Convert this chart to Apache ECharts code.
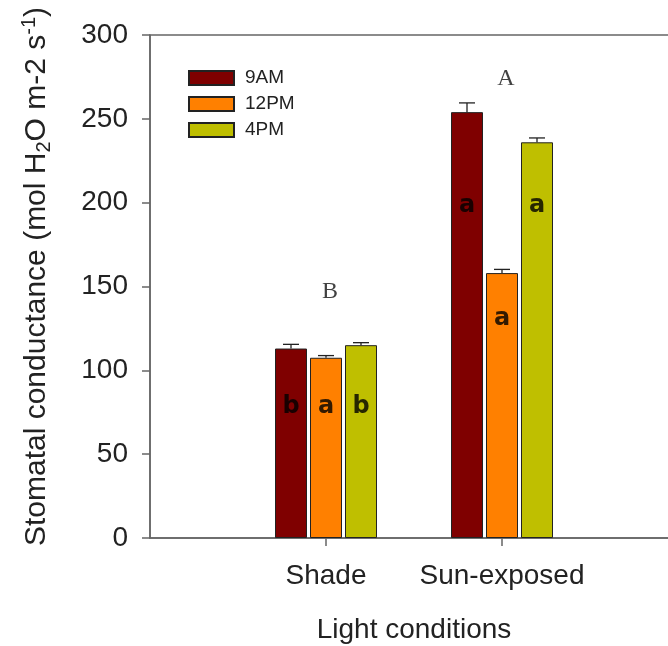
<!DOCTYPE html>
<html>
<head>
<meta charset="utf-8">
<script src="https://cdn.jsdelivr.net/npm/echarts@6/dist/echarts.min.js"></script>
<style>
  html, body { margin: 0; padding: 0; background: #fff; }
  #main { width: 668px; height: 646px; }
</style>
</head>
<body>
<div id="main"></div>
<script>
// data
var categories = ['Shade', 'Sun-exposed'];
var seriesNames = ['9AM', '12PM', '4PM'];
var values9 = [113, 254];
var values12 = [107.5, 158];
var values4 = [115, 236];
var err9 = [2.5, 5.5];
var err12 = [1.3, 2.2];
var err4 = [1.5, 2.6];
// significance letters inside the bars and where they sit (axis units)
var letters9 = ['b', 'a'];
var letters12 = ['a', 'a'];
var letters4 = ['b', 'a'];
var letterY9 = [78, 198];
var letterY12 = [78, 131];
var letterY4 = [78, 198];
// letters above each group
var groupLetters = ['B', 'A'];
var groupLetterY = [147, 274];
var yTicks = [0, 50, 100, 150, 200, 250, 300];

var colors = ['#7f0000', '#ff8000', '#bfbf00'];
var BAR_W = 32;
var BAR_GAP = 3;

// x axis runs 0..3, the two groups sit at 1 and 2
var axisCats = [''].concat(categories).concat(['']);

function pad(arr) {
  return ['-'].concat(arr).concat(['-']);
}

function errRender(offset) {
  return function (params, api) {
    var base = api.coord([api.value(0), api.value(1)]);
    var top = api.coord([api.value(0), api.value(1) + api.value(2)]);
    var x = base[0] + offset;
    var st = { stroke: '#222', lineWidth: 1.3 };
    return {
      type: 'group',
      children: [
        { type: 'line', shape: { x1: x, y1: base[1], x2: x, y2: top[1] }, style: st },
        { type: 'line', shape: { x1: x - 8, y1: top[1], x2: x + 8, y2: top[1] }, style: st }
      ]
    };
  };
}

var valueSets = [values9, values12, values4];
var errSets = [err9, err12, err4];
var letterSets = [letters9, letters12, letters4];
var letterYSets = [letterY9, letterY12, letterY4];

var series = [];
seriesNames.forEach(function (name, i) {
  series.push({
    name: name,
    type: 'bar',
    barWidth: BAR_W,
    barGap: (BAR_GAP / BAR_W * 100) + '%',
    data: pad(valueSets[i]),
    itemStyle: { color: colors[i], borderColor: '#222', borderWidth: 1 },
    z: 2
  });
});
seriesNames.forEach(function (name, i) {
  var offset = (i - 1) * (BAR_W + BAR_GAP);
  series.push({
    type: 'custom',
    renderItem: errRender(offset),
    data: valueSets[i].map(function (v, k) { return [k + 1, v, errSets[i][k]]; }),
    z: 3,
    silent: true
  });
  series.push({
    type: 'scatter',
    symbolSize: 0,
    data: letterYSets[i].map(function (v, k) { return [k + 1, v, letterSets[i][k]]; }),
    label: {
      show: true,
      position: 'inside',
      offset: [offset, 0],
      formatter: function (p) { return p.data[2]; },
      fontFamily: 'DejaVu Sans',
      fontWeight: 'bold',
      fontSize: 24,
      color: '#000'
    },
    z: 4,
    silent: true
  });
});
series.push({
  type: 'scatter',
  symbolSize: 0,
  data: groupLetterY.map(function (v, k) { return [k + 1, v, groupLetters[k]]; }),
  label: {
    show: true,
    position: 'inside',
    offset: [4, 0],
    formatter: function (p) { return p.data[2]; },
    fontFamily: 'Liberation Serif',
    fontSize: 24,
    color: '#111'
  },
  z: 4,
  silent: true
});

var myChart = echarts.init(document.getElementById('main'));
var option = {
  animation: false,
  backgroundColor: '#fff',
  textStyle: { fontFamily: 'Liberation Sans' },
  grid: {
    left: 150,
    top: 35,
    right: -10,
    bottom: 108,
    outerBoundsMode: 'none',
    show: true,
    borderColor: '#666',
    borderWidth: 1.5
  },
  legend: {
    data: seriesNames,
    orient: 'vertical',
    left: 188,
    top: 68,
    padding: 0,
    itemWidth: 45,
    itemHeight: 14,
    itemGap: 6,
    icon: 'rect',
    textStyle: {
      fontFamily: 'Liberation Sans',
      fontSize: 19,
      lineHeight: 20,
      color: '#222',
      padding: [0, 0, 0, 6]
    }
  },
  xAxis: {
    type: 'category',
    data: axisCats,
    boundaryGap: false,
    name: 'Light conditions',
    nameLocation: 'middle',
    nameGap: 78,
    nameTextStyle: { fontSize: 28, color: '#222', fontFamily: 'Liberation Sans' },
    axisLine: { lineStyle: { color: '#666', width: 1.5 } },
    axisTick: {
      length: 8,
      interval: function (idx, val) { return val !== ''; },
      lineStyle: { color: '#666', width: 1.5 }
    },
    axisLabel: {
      interval: 0,
      margin: 24,
      fontSize: 28,
      color: '#222',
      fontFamily: 'Liberation Sans'
    },
    splitLine: { show: false }
  },
  yAxis: {
    type: 'value',
    min: yTicks[0],
    max: yTicks[yTicks.length - 1],
    interval: yTicks[1] - yTicks[0],
    name: '{n|Stomatal conductance (mol H}{sub|2}{n|O m-2 s}{sup|-1}{n|)}',
    nameLocation: 'middle',
    nameGap: 96,
    nameRotate: 90,
    nameTextStyle: {
      padding: [0, 0, 0, 20],
      rich: {
        n: { fontSize: 30, color: '#222', fontFamily: 'Liberation Sans' },
        sub: { fontSize: 20, color: '#222', fontFamily: 'Liberation Sans', padding: [15, 0, 0, 0] },
        sup: { fontSize: 20, color: '#222', fontFamily: 'Liberation Sans', padding: [0, 0, 15, 0] }
      }
    },
    axisLine: { show: true, lineStyle: { color: '#666', width: 1.5 } },
    axisTick: { show: true, length: 8, lineStyle: { color: '#666', width: 1.5 } },
    axisLabel: { margin: 22, fontSize: 28, color: '#222', fontFamily: 'Liberation Sans' },
    splitLine: { show: false }
  },
  series: series
};
myChart.setOption(option);
</script>
</body>
</html>
